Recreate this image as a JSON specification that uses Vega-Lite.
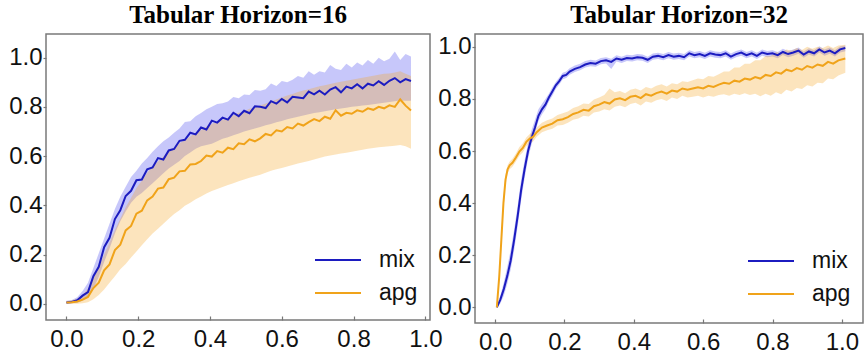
{
 "$schema": "https://vega.github.io/schema/vega-lite/v6.json",
 "background": "white",
 "padding": {"left": 7, "top": 2, "right": 0, "bottom": 0},
 "bounds": "flush",
 "spacing": 45,
 "config": {
  "view": {"stroke": "#7a7a7a", "strokeWidth": 1.5},
  "axis": {"labelFont": "Liberation Sans", "labelFontSize": 24, "labelColor": "#111", "domain": false, "grid": false, "tickColor": "#777", "tickWidth": 1.2, "title": null},
  "title": {"font": "Liberation Serif", "fontSize": 25, "fontWeight": "bold", "color": "#000", "offset": 6, "frame": "group"},
  "legend": {"title": null, "symbolType": "stroke", "symbolSize": 2116, "symbolStrokeWidth": 2, "labelFont": "Liberation Sans", "labelFontSize": 23, "labelColor": "#111", "labelOffset": 17, "clipHeight": 20, "rowPadding": 10, "padding": 0}
 },
 "resolve": {"scale": {"x": "independent", "y": "independent", "stroke": "independent"}, "legend": {"stroke": "independent"}},
 "datasets": {
  "h16": [
   {"s":"mix","x":0.000,"y":0.005,"lo":0.000,"hi":0.012},
   {"s":"mix","x":0.015,"y":0.007,"lo":0.002,"hi":0.015},
   {"s":"mix","x":0.030,"y":0.014,"lo":0.004,"hi":0.026},
   {"s":"mix","x":0.045,"y":0.033,"lo":0.012,"hi":0.052},
   {"s":"mix","x":0.060,"y":0.047,"lo":0.025,"hi":0.085},
   {"s":"mix","x":0.075,"y":0.112,"lo":0.060,"hi":0.145},
   {"s":"mix","x":0.090,"y":0.150,"lo":0.110,"hi":0.205},
   {"s":"mix","x":0.105,"y":0.230,"lo":0.170,"hi":0.265},
   {"s":"mix","x":0.120,"y":0.268,"lo":0.225,"hi":0.325},
   {"s":"mix","x":0.135,"y":0.344,"lo":0.285,"hi":0.385},
   {"s":"mix","x":0.150,"y":0.380,"lo":0.335,"hi":0.435},
   {"s":"mix","x":0.165,"y":0.438,"lo":0.375,"hi":0.475},
   {"s":"mix","x":0.180,"y":0.459,"lo":0.410,"hi":0.515},
   {"s":"mix","x":0.195,"y":0.502,"lo":0.435,"hi":0.540},
   {"s":"mix","x":0.210,"y":0.505,"lo":0.450,"hi":0.570},
   {"s":"mix","x":0.225,"y":0.546,"lo":0.470,"hi":0.592},
   {"s":"mix","x":0.240,"y":0.554,"lo":0.490,"hi":0.618},
   {"s":"mix","x":0.255,"y":0.592,"lo":0.510,"hi":0.640},
   {"s":"mix","x":0.270,"y":0.586,"lo":0.530,"hi":0.660},
   {"s":"mix","x":0.285,"y":0.623,"lo":0.550,"hi":0.675},
   {"s":"mix","x":0.300,"y":0.629,"lo":0.565,"hi":0.695},
   {"s":"mix","x":0.315,"y":0.662,"lo":0.580,"hi":0.712},
   {"s":"mix","x":0.330,"y":0.666,"lo":0.600,"hi":0.738},
   {"s":"mix","x":0.345,"y":0.695,"lo":0.615,"hi":0.742},
   {"s":"mix","x":0.360,"y":0.688,"lo":0.630,"hi":0.762},
   {"s":"mix","x":0.375,"y":0.716,"lo":0.640,"hi":0.775},
   {"s":"mix","x":0.390,"y":0.708,"lo":0.645,"hi":0.790},
   {"s":"mix","x":0.405,"y":0.744,"lo":0.650,"hi":0.800},
   {"s":"mix","x":0.420,"y":0.736,"lo":0.660,"hi":0.812},
   {"s":"mix","x":0.435,"y":0.756,"lo":0.670,"hi":0.815},
   {"s":"mix","x":0.450,"y":0.748,"lo":0.677,"hi":0.822},
   {"s":"mix","x":0.465,"y":0.776,"lo":0.685,"hi":0.840},
   {"s":"mix","x":0.480,"y":0.762,"lo":0.692,"hi":0.835},
   {"s":"mix","x":0.495,"y":0.784,"lo":0.700,"hi":0.850},
   {"s":"mix","x":0.510,"y":0.774,"lo":0.706,"hi":0.848},
   {"s":"mix","x":0.525,"y":0.802,"lo":0.712,"hi":0.868},
   {"s":"mix","x":0.540,"y":0.800,"lo":0.718,"hi":0.865},
   {"s":"mix","x":0.555,"y":0.795,"lo":0.725,"hi":0.872},
   {"s":"mix","x":0.570,"y":0.823,"lo":0.730,"hi":0.895},
   {"s":"mix","x":0.585,"y":0.813,"lo":0.737,"hi":0.885},
   {"s":"mix","x":0.600,"y":0.832,"lo":0.743,"hi":0.905},
   {"s":"mix","x":0.615,"y":0.818,"lo":0.750,"hi":0.900},
   {"s":"mix","x":0.630,"y":0.841,"lo":0.755,"hi":0.910},
   {"s":"mix","x":0.645,"y":0.838,"lo":0.760,"hi":0.925},
   {"s":"mix","x":0.660,"y":0.835,"lo":0.765,"hi":0.918},
   {"s":"mix","x":0.675,"y":0.862,"lo":0.770,"hi":0.945},
   {"s":"mix","x":0.690,"y":0.851,"lo":0.775,"hi":0.930},
   {"s":"mix","x":0.705,"y":0.866,"lo":0.778,"hi":0.945},
   {"s":"mix","x":0.720,"y":0.850,"lo":0.782,"hi":0.940},
   {"s":"mix","x":0.735,"y":0.870,"lo":0.786,"hi":0.970},
   {"s":"mix","x":0.750,"y":0.880,"lo":0.790,"hi":0.955},
   {"s":"mix","x":0.765,"y":0.859,"lo":0.793,"hi":0.950},
   {"s":"mix","x":0.780,"y":0.882,"lo":0.796,"hi":0.975},
   {"s":"mix","x":0.795,"y":0.875,"lo":0.800,"hi":0.960},
   {"s":"mix","x":0.810,"y":0.892,"lo":0.802,"hi":0.980},
   {"s":"mix","x":0.825,"y":0.875,"lo":0.805,"hi":0.968},
   {"s":"mix","x":0.840,"y":0.894,"lo":0.808,"hi":0.990},
   {"s":"mix","x":0.855,"y":0.887,"lo":0.811,"hi":0.975},
   {"s":"mix","x":0.870,"y":0.904,"lo":0.814,"hi":1.000},
   {"s":"mix","x":0.885,"y":0.889,"lo":0.817,"hi":0.985},
   {"s":"mix","x":0.900,"y":0.906,"lo":0.820,"hi":0.995},
   {"s":"mix","x":0.915,"y":0.917,"lo":0.823,"hi":1.025},
   {"s":"mix","x":0.930,"y":0.900,"lo":0.826,"hi":0.990},
   {"s":"mix","x":0.945,"y":0.913,"lo":0.825,"hi":1.015},
   {"s":"mix","x":0.960,"y":0.905,"lo":0.825,"hi":1.005},
   {"s":"apg","x":0.000,"y":0.005,"lo":0.000,"hi":0.010},
   {"s":"apg","x":0.015,"y":0.006,"lo":0.000,"hi":0.014},
   {"s":"apg","x":0.030,"y":0.009,"lo":0.000,"hi":0.020},
   {"s":"apg","x":0.045,"y":0.017,"lo":0.002,"hi":0.036},
   {"s":"apg","x":0.060,"y":0.028,"lo":0.006,"hi":0.062},
   {"s":"apg","x":0.075,"y":0.064,"lo":0.018,"hi":0.105},
   {"s":"apg","x":0.090,"y":0.086,"lo":0.036,"hi":0.148},
   {"s":"apg","x":0.105,"y":0.136,"lo":0.058,"hi":0.200},
   {"s":"apg","x":0.120,"y":0.160,"lo":0.085,"hi":0.248},
   {"s":"apg","x":0.135,"y":0.218,"lo":0.112,"hi":0.300},
   {"s":"apg","x":0.150,"y":0.240,"lo":0.140,"hi":0.345},
   {"s":"apg","x":0.165,"y":0.298,"lo":0.162,"hi":0.392},
   {"s":"apg","x":0.180,"y":0.316,"lo":0.188,"hi":0.430},
   {"s":"apg","x":0.195,"y":0.366,"lo":0.212,"hi":0.470},
   {"s":"apg","x":0.210,"y":0.378,"lo":0.238,"hi":0.500},
   {"s":"apg","x":0.225,"y":0.420,"lo":0.262,"hi":0.532},
   {"s":"apg","x":0.240,"y":0.436,"lo":0.285,"hi":0.558},
   {"s":"apg","x":0.255,"y":0.468,"lo":0.305,"hi":0.578},
   {"s":"apg","x":0.270,"y":0.472,"lo":0.325,"hi":0.598},
   {"s":"apg","x":0.285,"y":0.506,"lo":0.345,"hi":0.618},
   {"s":"apg","x":0.300,"y":0.512,"lo":0.365,"hi":0.635},
   {"s":"apg","x":0.315,"y":0.538,"lo":0.380,"hi":0.652},
   {"s":"apg","x":0.330,"y":0.540,"lo":0.398,"hi":0.665},
   {"s":"apg","x":0.345,"y":0.566,"lo":0.410,"hi":0.680},
   {"s":"apg","x":0.360,"y":0.568,"lo":0.425,"hi":0.695},
   {"s":"apg","x":0.375,"y":0.580,"lo":0.436,"hi":0.706},
   {"s":"apg","x":0.390,"y":0.602,"lo":0.448,"hi":0.720},
   {"s":"apg","x":0.405,"y":0.598,"lo":0.458,"hi":0.730},
   {"s":"apg","x":0.420,"y":0.620,"lo":0.466,"hi":0.740},
   {"s":"apg","x":0.435,"y":0.614,"lo":0.474,"hi":0.748},
   {"s":"apg","x":0.450,"y":0.634,"lo":0.482,"hi":0.756},
   {"s":"apg","x":0.465,"y":0.628,"lo":0.490,"hi":0.766},
   {"s":"apg","x":0.480,"y":0.652,"lo":0.498,"hi":0.776},
   {"s":"apg","x":0.495,"y":0.648,"lo":0.505,"hi":0.782},
   {"s":"apg","x":0.510,"y":0.668,"lo":0.512,"hi":0.792},
   {"s":"apg","x":0.525,"y":0.660,"lo":0.518,"hi":0.798},
   {"s":"apg","x":0.540,"y":0.672,"lo":0.524,"hi":0.806},
   {"s":"apg","x":0.555,"y":0.690,"lo":0.532,"hi":0.814},
   {"s":"apg","x":0.570,"y":0.684,"lo":0.540,"hi":0.822},
   {"s":"apg","x":0.585,"y":0.705,"lo":0.546,"hi":0.830},
   {"s":"apg","x":0.600,"y":0.700,"lo":0.552,"hi":0.838},
   {"s":"apg","x":0.615,"y":0.718,"lo":0.558,"hi":0.846},
   {"s":"apg","x":0.630,"y":0.712,"lo":0.564,"hi":0.852},
   {"s":"apg","x":0.645,"y":0.732,"lo":0.570,"hi":0.860},
   {"s":"apg","x":0.660,"y":0.724,"lo":0.575,"hi":0.866},
   {"s":"apg","x":0.675,"y":0.738,"lo":0.580,"hi":0.872},
   {"s":"apg","x":0.690,"y":0.750,"lo":0.586,"hi":0.878},
   {"s":"apg","x":0.705,"y":0.742,"lo":0.592,"hi":0.884},
   {"s":"apg","x":0.720,"y":0.760,"lo":0.598,"hi":0.888},
   {"s":"apg","x":0.735,"y":0.752,"lo":0.602,"hi":0.893},
   {"s":"apg","x":0.750,"y":0.786,"lo":0.606,"hi":0.898},
   {"s":"apg","x":0.765,"y":0.764,"lo":0.610,"hi":0.902},
   {"s":"apg","x":0.780,"y":0.776,"lo":0.614,"hi":0.906},
   {"s":"apg","x":0.795,"y":0.772,"lo":0.618,"hi":0.910},
   {"s":"apg","x":0.810,"y":0.786,"lo":0.622,"hi":0.914},
   {"s":"apg","x":0.825,"y":0.780,"lo":0.626,"hi":0.918},
   {"s":"apg","x":0.840,"y":0.794,"lo":0.630,"hi":0.922},
   {"s":"apg","x":0.855,"y":0.788,"lo":0.633,"hi":0.926},
   {"s":"apg","x":0.870,"y":0.800,"lo":0.636,"hi":0.930},
   {"s":"apg","x":0.885,"y":0.794,"lo":0.638,"hi":0.934},
   {"s":"apg","x":0.900,"y":0.806,"lo":0.640,"hi":0.936},
   {"s":"apg","x":0.915,"y":0.800,"lo":0.642,"hi":0.940},
   {"s":"apg","x":0.930,"y":0.830,"lo":0.645,"hi":0.945},
   {"s":"apg","x":0.945,"y":0.805,"lo":0.640,"hi":0.935},
   {"s":"apg","x":0.960,"y":0.785,"lo":0.630,"hi":0.925}
  ],
  "h32": [
   {"s":"mix","x":0.005,"y":0.000,"lo":0.000,"hi":0.005},
   {"s":"mix","x":0.015,"y":0.030,"lo":0.015,"hi":0.045},
   {"s":"mix","x":0.025,"y":0.070,"lo":0.045,"hi":0.095},
   {"s":"mix","x":0.035,"y":0.120,"lo":0.090,"hi":0.155},
   {"s":"mix","x":0.045,"y":0.180,"lo":0.145,"hi":0.220},
   {"s":"mix","x":0.055,"y":0.260,"lo":0.220,"hi":0.300},
   {"s":"mix","x":0.065,"y":0.350,"lo":0.310,"hi":0.390},
   {"s":"mix","x":0.075,"y":0.450,"lo":0.410,"hi":0.490},
   {"s":"mix","x":0.085,"y":0.530,"lo":0.495,"hi":0.565},
   {"s":"mix","x":0.095,"y":0.600,"lo":0.570,"hi":0.630},
   {"s":"mix","x":0.105,"y":0.650,"lo":0.625,"hi":0.680},
   {"s":"mix","x":0.115,"y":0.690,"lo":0.670,"hi":0.720},
   {"s":"mix","x":0.125,"y":0.735,"lo":0.715,"hi":0.760},
   {"s":"mix","x":0.135,"y":0.760,"lo":0.740,"hi":0.780},
   {"s":"mix","x":0.145,"y":0.778,"lo":0.760,"hi":0.800},
   {"s":"mix","x":0.155,"y":0.805,"lo":0.790,"hi":0.820},
   {"s":"mix","x":0.165,"y":0.828,"lo":0.812,"hi":0.845},
   {"s":"mix","x":0.175,"y":0.852,"lo":0.838,"hi":0.865},
   {"s":"mix","x":0.185,"y":0.868,"lo":0.855,"hi":0.882},
   {"s":"mix","x":0.195,"y":0.888,"lo":0.875,"hi":0.900},
   {"s":"mix","x":0.205,"y":0.892,"lo":0.880,"hi":0.905},
   {"s":"mix","x":0.215,"y":0.905,"lo":0.893,"hi":0.918},
   {"s":"mix","x":0.230,"y":0.915,"lo":0.903,"hi":0.928},
   {"s":"mix","x":0.245,"y":0.922,"lo":0.910,"hi":0.935},
   {"s":"mix","x":0.260,"y":0.932,"lo":0.920,"hi":0.945},
   {"s":"mix","x":0.275,"y":0.938,"lo":0.925,"hi":0.950},
   {"s":"mix","x":0.290,"y":0.935,"lo":0.923,"hi":0.947},
   {"s":"mix","x":0.305,"y":0.945,"lo":0.933,"hi":0.957},
   {"s":"mix","x":0.320,"y":0.948,"lo":0.936,"hi":0.960},
   {"s":"mix","x":0.335,"y":0.942,"lo":0.915,"hi":0.954},
   {"s":"mix","x":0.350,"y":0.955,"lo":0.943,"hi":0.967},
   {"s":"mix","x":0.365,"y":0.950,"lo":0.938,"hi":0.962},
   {"s":"mix","x":0.380,"y":0.957,"lo":0.945,"hi":0.969},
   {"s":"mix","x":0.395,"y":0.955,"lo":0.943,"hi":0.967},
   {"s":"mix","x":0.410,"y":0.960,"lo":0.948,"hi":0.972},
   {"s":"mix","x":0.425,"y":0.958,"lo":0.946,"hi":0.970},
   {"s":"mix","x":0.440,"y":0.950,"lo":0.938,"hi":0.962},
   {"s":"mix","x":0.455,"y":0.962,"lo":0.950,"hi":0.974},
   {"s":"mix","x":0.470,"y":0.965,"lo":0.953,"hi":0.977},
   {"s":"mix","x":0.485,"y":0.960,"lo":0.948,"hi":0.972},
   {"s":"mix","x":0.500,"y":0.968,"lo":0.956,"hi":0.980},
   {"s":"mix","x":0.515,"y":0.962,"lo":0.950,"hi":0.974},
   {"s":"mix","x":0.530,"y":0.965,"lo":0.953,"hi":0.977},
   {"s":"mix","x":0.545,"y":0.960,"lo":0.948,"hi":0.972},
   {"s":"mix","x":0.560,"y":0.975,"lo":0.963,"hi":0.987},
   {"s":"mix","x":0.575,"y":0.968,"lo":0.956,"hi":0.980},
   {"s":"mix","x":0.590,"y":0.972,"lo":0.960,"hi":0.984},
   {"s":"mix","x":0.605,"y":0.965,"lo":0.953,"hi":0.977},
   {"s":"mix","x":0.620,"y":0.975,"lo":0.963,"hi":0.987},
   {"s":"mix","x":0.635,"y":0.970,"lo":0.958,"hi":0.982},
   {"s":"mix","x":0.650,"y":0.968,"lo":0.956,"hi":0.980},
   {"s":"mix","x":0.665,"y":0.975,"lo":0.963,"hi":0.987},
   {"s":"mix","x":0.680,"y":0.962,"lo":0.950,"hi":0.974},
   {"s":"mix","x":0.695,"y":0.972,"lo":0.960,"hi":0.984},
   {"s":"mix","x":0.710,"y":0.978,"lo":0.966,"hi":0.990},
   {"s":"mix","x":0.725,"y":0.968,"lo":0.956,"hi":0.980},
   {"s":"mix","x":0.740,"y":0.975,"lo":0.963,"hi":0.987},
   {"s":"mix","x":0.755,"y":0.965,"lo":0.953,"hi":0.977},
   {"s":"mix","x":0.770,"y":0.978,"lo":0.966,"hi":0.990},
   {"s":"mix","x":0.785,"y":0.972,"lo":0.960,"hi":0.984},
   {"s":"mix","x":0.800,"y":0.975,"lo":0.963,"hi":0.987},
   {"s":"mix","x":0.815,"y":0.968,"lo":0.956,"hi":0.980},
   {"s":"mix","x":0.830,"y":0.980,"lo":0.968,"hi":0.992},
   {"s":"mix","x":0.845,"y":0.972,"lo":0.960,"hi":0.984},
   {"s":"mix","x":0.860,"y":0.978,"lo":0.966,"hi":0.990},
   {"s":"mix","x":0.875,"y":0.985,"lo":0.973,"hi":0.997},
   {"s":"mix","x":0.890,"y":0.970,"lo":0.958,"hi":0.982},
   {"s":"mix","x":0.905,"y":0.982,"lo":0.970,"hi":0.994},
   {"s":"mix","x":0.920,"y":0.975,"lo":0.963,"hi":0.987},
   {"s":"mix","x":0.935,"y":0.990,"lo":0.978,"hi":1.002},
   {"s":"mix","x":0.950,"y":0.978,"lo":0.966,"hi":0.990},
   {"s":"mix","x":0.965,"y":0.985,"lo":0.973,"hi":0.997},
   {"s":"mix","x":0.980,"y":0.975,"lo":0.963,"hi":0.987},
   {"s":"mix","x":0.995,"y":0.990,"lo":0.978,"hi":1.002},
   {"s":"mix","x":1.010,"y":0.995,"lo":0.983,"hi":1.005},
   {"s":"apg","x":0.005,"y":0.000,"lo":0.000,"hi":0.005},
   {"s":"apg","x":0.012,"y":0.120,"lo":0.100,"hi":0.140},
   {"s":"apg","x":0.018,"y":0.260,"lo":0.235,"hi":0.285},
   {"s":"apg","x":0.024,"y":0.400,"lo":0.375,"hi":0.425},
   {"s":"apg","x":0.030,"y":0.490,"lo":0.470,"hi":0.510},
   {"s":"apg","x":0.036,"y":0.530,"lo":0.515,"hi":0.545},
   {"s":"apg","x":0.042,"y":0.545,"lo":0.530,"hi":0.560},
   {"s":"apg","x":0.050,"y":0.555,"lo":0.540,"hi":0.570},
   {"s":"apg","x":0.060,"y":0.575,"lo":0.560,"hi":0.590},
   {"s":"apg","x":0.070,"y":0.598,"lo":0.582,"hi":0.615},
   {"s":"apg","x":0.080,"y":0.612,"lo":0.595,"hi":0.630},
   {"s":"apg","x":0.090,"y":0.635,"lo":0.618,"hi":0.652},
   {"s":"apg","x":0.100,"y":0.648,"lo":0.630,"hi":0.665},
   {"s":"apg","x":0.110,"y":0.655,"lo":0.637,"hi":0.675},
   {"s":"apg","x":0.120,"y":0.672,"lo":0.655,"hi":0.690},
   {"s":"apg","x":0.135,"y":0.690,"lo":0.672,"hi":0.708},
   {"s":"apg","x":0.150,"y":0.698,"lo":0.680,"hi":0.718},
   {"s":"apg","x":0.165,"y":0.705,"lo":0.685,"hi":0.725},
   {"s":"apg","x":0.180,"y":0.718,"lo":0.698,"hi":0.738},
   {"s":"apg","x":0.195,"y":0.722,"lo":0.700,"hi":0.745},
   {"s":"apg","x":0.210,"y":0.730,"lo":0.708,"hi":0.752},
   {"s":"apg","x":0.225,"y":0.742,"lo":0.720,"hi":0.765},
   {"s":"apg","x":0.240,"y":0.748,"lo":0.725,"hi":0.772},
   {"s":"apg","x":0.255,"y":0.758,"lo":0.735,"hi":0.782},
   {"s":"apg","x":0.270,"y":0.755,"lo":0.732,"hi":0.780},
   {"s":"apg","x":0.285,"y":0.772,"lo":0.748,"hi":0.798},
   {"s":"apg","x":0.300,"y":0.778,"lo":0.752,"hi":0.805},
   {"s":"apg","x":0.315,"y":0.788,"lo":0.760,"hi":0.815},
   {"s":"apg","x":0.330,"y":0.782,"lo":0.755,"hi":0.840},
   {"s":"apg","x":0.345,"y":0.798,"lo":0.770,"hi":0.825},
   {"s":"apg","x":0.360,"y":0.802,"lo":0.775,"hi":0.830},
   {"s":"apg","x":0.375,"y":0.795,"lo":0.768,"hi":0.822},
   {"s":"apg","x":0.390,"y":0.808,"lo":0.780,"hi":0.835},
   {"s":"apg","x":0.405,"y":0.812,"lo":0.785,"hi":0.840},
   {"s":"apg","x":0.420,"y":0.803,"lo":0.775,"hi":0.832},
   {"s":"apg","x":0.435,"y":0.818,"lo":0.790,"hi":0.846},
   {"s":"apg","x":0.450,"y":0.812,"lo":0.785,"hi":0.840},
   {"s":"apg","x":0.465,"y":0.822,"lo":0.795,"hi":0.850},
   {"s":"apg","x":0.480,"y":0.828,"lo":0.800,"hi":0.856},
   {"s":"apg","x":0.495,"y":0.820,"lo":0.792,"hi":0.848},
   {"s":"apg","x":0.510,"y":0.832,"lo":0.805,"hi":0.860},
   {"s":"apg","x":0.525,"y":0.828,"lo":0.800,"hi":0.856},
   {"s":"apg","x":0.540,"y":0.840,"lo":0.812,"hi":0.868},
   {"s":"apg","x":0.555,"y":0.835,"lo":0.805,"hi":0.865},
   {"s":"apg","x":0.570,"y":0.840,"lo":0.808,"hi":0.872},
   {"s":"apg","x":0.585,"y":0.845,"lo":0.812,"hi":0.878},
   {"s":"apg","x":0.600,"y":0.840,"lo":0.805,"hi":0.875},
   {"s":"apg","x":0.615,"y":0.850,"lo":0.812,"hi":0.888},
   {"s":"apg","x":0.630,"y":0.846,"lo":0.808,"hi":0.885},
   {"s":"apg","x":0.645,"y":0.855,"lo":0.815,"hi":0.895},
   {"s":"apg","x":0.660,"y":0.862,"lo":0.818,"hi":0.905},
   {"s":"apg","x":0.675,"y":0.858,"lo":0.812,"hi":0.905},
   {"s":"apg","x":0.690,"y":0.870,"lo":0.820,"hi":0.920},
   {"s":"apg","x":0.705,"y":0.866,"lo":0.815,"hi":0.920},
   {"s":"apg","x":0.720,"y":0.878,"lo":0.822,"hi":0.935},
   {"s":"apg","x":0.735,"y":0.874,"lo":0.815,"hi":0.935},
   {"s":"apg","x":0.750,"y":0.884,"lo":0.820,"hi":0.948},
   {"s":"apg","x":0.765,"y":0.878,"lo":0.810,"hi":0.948},
   {"s":"apg","x":0.780,"y":0.892,"lo":0.820,"hi":0.965},
   {"s":"apg","x":0.795,"y":0.888,"lo":0.812,"hi":0.965},
   {"s":"apg","x":0.810,"y":0.902,"lo":0.825,"hi":0.980},
   {"s":"apg","x":0.825,"y":0.897,"lo":0.818,"hi":0.975},
   {"s":"apg","x":0.840,"y":0.912,"lo":0.835,"hi":0.990},
   {"s":"apg","x":0.855,"y":0.906,"lo":0.828,"hi":0.985},
   {"s":"apg","x":0.870,"y":0.918,"lo":0.842,"hi":0.995},
   {"s":"apg","x":0.885,"y":0.912,"lo":0.838,"hi":0.988},
   {"s":"apg","x":0.900,"y":0.926,"lo":0.852,"hi":1.000},
   {"s":"apg","x":0.915,"y":0.920,"lo":0.848,"hi":0.992},
   {"s":"apg","x":0.930,"y":0.932,"lo":0.862,"hi":1.000},
   {"s":"apg","x":0.945,"y":0.927,"lo":0.860,"hi":0.995},
   {"s":"apg","x":0.960,"y":0.942,"lo":0.878,"hi":1.005},
   {"s":"apg","x":0.975,"y":0.935,"lo":0.875,"hi":0.995},
   {"s":"apg","x":0.990,"y":0.948,"lo":0.890,"hi":1.005},
   {"s":"apg","x":1.010,"y":0.955,"lo":0.900,"hi":1.008}
  ]
 },
 "hconcat": [
  {
   "width": 384, "height": 286,
   "title": {"text": "Tabular Horizon=16"},
   "data": {"name": "h16"},
   "encoding": {
    "x": {"field": "x", "type": "quantitative", "scale": {"domain": [-0.057, 1.013], "nice": false, "zero": false}, "axis": {"values": [0, 0.2, 0.4, 0.6, 0.8, 1.0], "format": ".1f", "tickSize": -4, "labelPadding": 11}},
    "y": {"type": "quantitative", "scale": {"domain": [-0.066, 1.096], "nice": false, "zero": false}, "axis": {"values": [0, 0.2, 0.4, 0.6, 0.8, 1.0], "format": ".1f", "tickSize": 3, "labelPadding": 1}}
   },
   "layer": [
    {"transform": [{"filter": "datum.s === 'mix'"}],
     "mark": {"type": "area", "opacity": 0.3, "color": "#4646f0"},
     "encoding": {"y": {"field": "lo", "type": "quantitative"}, "y2": {"field": "hi"}}},
    {"transform": [{"filter": "datum.s === 'apg'"}],
     "mark": {"type": "area", "opacity": 0.3, "color": "#f5a623"},
     "encoding": {"y": {"field": "lo", "type": "quantitative"}, "y2": {"field": "hi"}}},
    {"mark": {"type": "line", "strokeWidth": 2},
     "encoding": {
      "y": {"field": "y", "type": "quantitative"},
      "stroke": {"field": "s", "type": "nominal", "scale": {"domain": ["mix", "apg"], "range": ["#1c1cc0", "#f0a31a"]}, "legend": {"orient": "none", "legendX": 268, "legendY": 216}}
     }}
   ]
  },
  {
   "width": 388, "height": 289,
   "title": {"text": "Tabular Horizon=32", "dx": 10},
   "data": {"name": "h32"},
   "encoding": {
    "x": {"field": "x", "type": "quantitative", "scale": {"domain": [-0.058, 1.061], "nice": false, "zero": false}, "axis": {"values": [0, 0.2, 0.4, 0.6, 0.8, 1.0], "format": ".1f", "tickSize": -4, "labelPadding": 11}},
    "y": {"type": "quantitative", "scale": {"domain": [-0.06, 1.049], "nice": false, "zero": false}, "axis": {"values": [0, 0.2, 0.4, 0.6, 0.8, 1.0], "format": ".1f", "tickSize": 3, "labelPadding": 1}}
   },
   "layer": [
    {"transform": [{"filter": "datum.s === 'mix'"}],
     "mark": {"type": "area", "opacity": 0.3, "color": "#4646f0"},
     "encoding": {"y": {"field": "lo", "type": "quantitative"}, "y2": {"field": "hi"}}},
    {"transform": [{"filter": "datum.s === 'apg'"}],
     "mark": {"type": "area", "opacity": 0.3, "color": "#f5a623"},
     "encoding": {"y": {"field": "lo", "type": "quantitative"}, "y2": {"field": "hi"}}},
    {"mark": {"type": "line", "strokeWidth": 2},
     "encoding": {
      "y": {"field": "y", "type": "quantitative"},
      "stroke": {"field": "s", "type": "nominal", "scale": {"domain": ["mix", "apg"], "range": ["#1c1cc0", "#f0a31a"]}, "legend": {"orient": "none", "legendX": 272, "legendY": 217}}
     }}
   ]
  }
 ]
}
